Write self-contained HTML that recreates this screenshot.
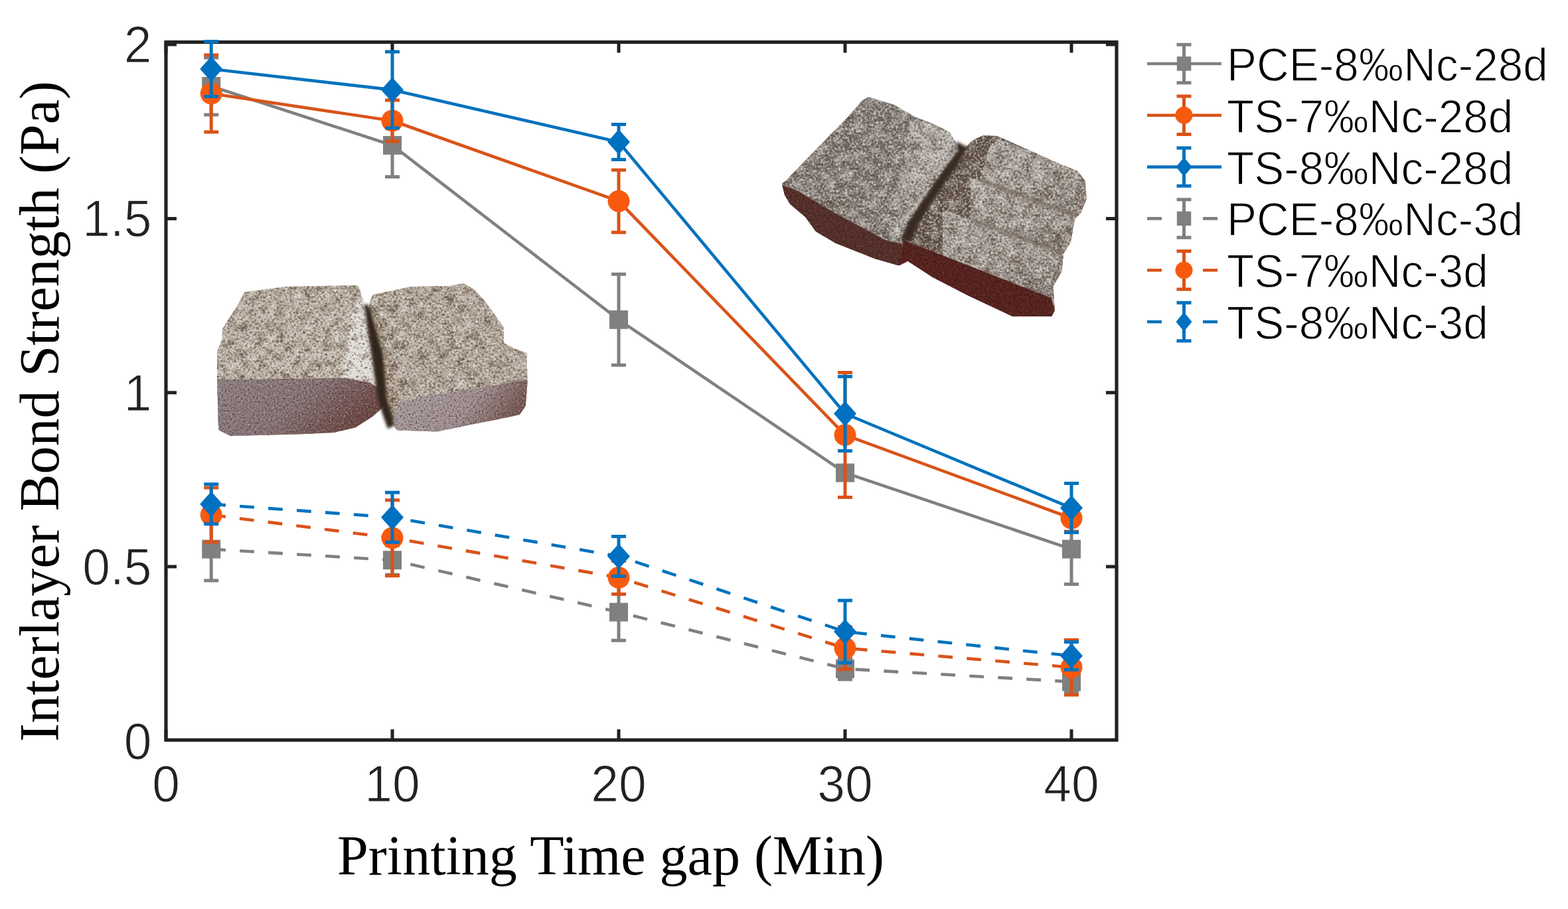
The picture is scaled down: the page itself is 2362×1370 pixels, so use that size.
<!DOCTYPE html>
<html><head><meta charset="utf-8"><title>Interlayer Bond Strength</title>
<style>
html,body{margin:0;padding:0;background:#fff;}
body{width:2362px;height:1370px;overflow:hidden;}
svg{display:block;}
.tk{font-family:"Liberation Sans",Arial,sans-serif;font-size:75px;fill:#222;stroke:#fff;stroke-width:1.1px;}
.leg{font-family:"Liberation Sans",Arial,sans-serif;font-size:67.5px;fill:#000;stroke:#fff;stroke-width:1.3px;}
.lab{font-family:"Liberation Serif","Times New Roman",serif;font-size:84px;fill:#000;}
</style></head>
<body>
<svg width="2362" height="1370" viewBox="0 0 2362 1370">
<rect width="2362" height="1370" fill="#fff"/>
<defs>
<filter id="grain" x="0" y="0" width="1" height="1" color-interpolation-filters="sRGB">
<feTurbulence type="fractalNoise" baseFrequency="0.3" numOctaves="2" seed="7" result="n"/>
<feTurbulence type="fractalNoise" baseFrequency="0.07" numOctaves="2" seed="11" result="m"/>
<feColorMatrix in="n" type="matrix" values="0 0 0 0 0.3  0 0 0 0 0.25  0 0 0 0 0.21  -2.8 0 0 0 1.27" result="dk"/>
<feColorMatrix in="n" type="matrix" values="0 0 0 0 0.93  0 0 0 0 0.91  0 0 0 0 0.88  2.4 0 0 0 -1.15" result="lt"/>
<feColorMatrix in="m" type="matrix" values="0 0 0 0 0.36  0 0 0 0 0.3  0 0 0 0 0.25  0 -2.4 0 0 1.08" result="mdk"/>
<feColorMatrix in="m" type="matrix" values="0 0 0 0 0.93  0 0 0 0 0.92  0 0 0 0 0.9  0 1.3 0 0 -0.62" result="mlt"/>
<feMerge result="ov"><feMergeNode in="mdk"/><feMergeNode in="mlt"/><feMergeNode in="dk"/><feMergeNode in="lt"/></feMerge>
<feComposite in="ov" in2="SourceGraphic" operator="in" result="ov2"/>
<feMerge><feMergeNode in="SourceGraphic"/><feMergeNode in="ov2"/></feMerge>
</filter>
<filter id="grain2" x="0" y="0" width="1" height="1" color-interpolation-filters="sRGB">
<feTurbulence type="fractalNoise" baseFrequency="0.3" numOctaves="2" seed="5" result="n"/>
<feColorMatrix in="n" type="matrix" values="0 0 0 0 0.1  0 0 0 0 0.05  0 0 0 0 0.04  -1.6 0 0 0 0.72" result="dk"/>
<feColorMatrix in="n" type="matrix" values="0 0 0 0 0.6  0 0 0 0 0.45  0 0 0 0 0.42  1.2 0 0 0 -0.7" result="lt"/>
<feMerge result="ov"><feMergeNode in="dk"/><feMergeNode in="lt"/></feMerge>
<feComposite in="ov" in2="SourceGraphic" operator="in" result="ov2"/>
<feMerge><feMergeNode in="SourceGraphic"/><feMergeNode in="ov2"/></feMerge>
</filter>
<filter id="grainS" x="0" y="0" width="1" height="1" color-interpolation-filters="sRGB">
<feTurbulence type="fractalNoise" baseFrequency="0.38" numOctaves="2" seed="9" result="n"/>
<feColorMatrix in="n" type="matrix" values="0 0 0 0 0.25  0 0 0 0 0.18  0 0 0 0 0.18  -3.0 0 0 0 1.35" result="dk"/>
<feColorMatrix in="n" type="matrix" values="0 0 0 0 0.85  0 0 0 0 0.82  0 0 0 0 0.82  2.2 0 0 0 -1.28" result="lt"/>
<feMerge result="ov"><feMergeNode in="dk"/><feMergeNode in="lt"/></feMerge>
<feComposite in="ov" in2="SourceGraphic" operator="in" result="ov2"/>
<feMerge><feMergeNode in="SourceGraphic"/><feMergeNode in="ov2"/></feMerge>
</filter>
<filter id="soft" x="-30%" y="-8%" width="160%" height="116%"><feGaussianBlur stdDeviation="2.2"/></filter>
<linearGradient id="gL" x1="0" y1="0" x2="0.25" y2="1">
<stop offset="0" stop-color="#a39b95"/><stop offset="0.7" stop-color="#968e87"/><stop offset="1" stop-color="#7e756e"/></linearGradient>
<linearGradient id="gB1l" x1="0" y1="0" x2="1" y2="0">
<stop offset="0" stop-color="#7b746e"/><stop offset="0.5" stop-color="#9f9994"/><stop offset="1" stop-color="#b0aba6"/></linearGradient>
<linearGradient id="gA1f" x1="0" y1="0" x2="1" y2="0.4">
<stop offset="0" stop-color="#8f8082"/><stop offset="0.55" stop-color="#867476"/><stop offset="1" stop-color="#6b4642"/></linearGradient>
<linearGradient id="gA2f" x1="0" y1="0" x2="1" y2="0.3">
<stop offset="0" stop-color="#ab9da0"/><stop offset="0.65" stop-color="#9f8f92"/><stop offset="1" stop-color="#785a53"/></linearGradient>
<linearGradient id="gA1t" x1="0" y1="0" x2="1" y2="1">
<stop offset="0" stop-color="#ab9f92"/><stop offset="1" stop-color="#bbb0a3"/></linearGradient>
</defs>
<g filter="url(#grain)">
<polygon points="369,440 430,432 539,430 543,438 548,467 550,471 563,530 575.5,584 577.3,602.5 575.5,615 561,628 535,644.5 502.5,652 448,654.5 347,657 329,648 327,566 327,530 334.6,511 334.6,497 340,487.5 356.5,462" fill="url(#gA1t)"/>
<polygon points="530,474 544,446 549,467 560,534 569,598 557,580 540,571 512,571 522,530" fill="#dedad6" filter="url(#soft)"/>
<polygon points="562,444 595,437 618.5,432 677,431 699,427 715,437 731.6,455 759,493.5 759,517 777,526 793.6,532 794.6,575.6 791.8,612 782.7,625 750,632 704,641 658.6,650.4 598.4,648.6 589.3,637.6 582,625 576.5,597.5 565.5,561 554.6,506 554.6,470 558.2,451.5" fill="#aa9d90"/>
<polygon points="556,460 568,460 585,534 599,598 606,606 600,640 589,640 582,601 576,534 557,467" fill="#9c8a74"/>
</g>
<g filter="url(#grainS)">
<polygon points="327,571.5 421,571 521,569.6 557,577 575.5,588 577.3,602.5 575.5,615 561,628 535,644.5 502.5,652 448,654.5 347,657 329,648" fill="url(#gA1f)"/>
<polygon points="600,606.6 649.5,595.7 722.5,584.7 793.6,572 794.6,575.6 791.8,612 782.7,625 750,632 704,641 658.6,650.4 598.4,648.6 591,640" fill="url(#gA2f)"/>
</g>
<polygon points="548,460 554,458 559,470 577,534 583,601 590,623.5 593,642 584,646 576,623.5 569,601 560,534 550,470" fill="#33271f" filter="url(#soft)"/>
<g filter="url(#grain)">
<polygon points="1308,146 1347,158 1377,175.5 1406.5,187 1430,199 1440,215 1442,229 1426,250 1406.5,278 1386.7,307.5 1367,337 1359,357 1363,396 1353,400 1318,390 1258.7,366.6 1229,349 1213,327 1190,307.5 1182,294 1178,276 1182,274 1209,246 1249,205 1278,175.5 1298,152" fill="#7b746e"/>
<polygon points="1372,182 1406.5,187 1430,199 1440,215 1442,229 1426,250 1406.5,278 1386.7,307.5 1367,337 1359,357 1322,352 1330,320 1348,282 1362,240" fill="url(#gB1l)"/>
<polygon points="1446,231.6 1464,212 1481,204 1503,205 1547,225 1591,244.7 1623.7,258 1634.6,273 1636.8,299.5 1628,321 1619,330 1612.8,365 1601.8,382.7 1599.6,409 1586.5,431 1588.7,468 1584.3,476.8 1525,476.8 1459.5,446 1404.7,417.7 1367.5,393.6 1354.4,400.2 1359,357 1367,337 1386.7,307.5 1406.5,278 1426,250 1442,229" fill="#5e4f45"/>
<polygon points="1492,218 1505,210 1547,225 1591,244.7 1623.7,258 1630,272 1628,300 1615.3,322 1476,271 1484,245" fill="url(#gL)"/>
<polygon points="1462,268 1476,271 1615.3,322 1612,352 1600.4,379.2 1462,331" fill="url(#gL)"/>
<polygon points="1420,316 1462,331 1600.4,379.2 1599.6,409 1586.5,431 1583.5,449 1420,385" fill="url(#gL)"/>
<polygon points="1623.7,258 1634.6,273 1636.8,299.5 1628,321 1619,330 1612.8,365 1601.8,382.7 1599.6,409 1586.5,431 1588.7,462 1580,458 1584,430 1592,405 1596,380 1606,350 1612,325 1624,298 1626,275" fill="#857870"/>
</g>
<polygon points="1440,213 1458,222 1441,250 1422,278 1402,307.5 1384,337 1372,364 1359,362 1359,357 1367,337 1386.7,307.5 1406.5,278 1426,250 1442,229" fill="#382b24" filter="url(#soft)"/>
<path d="M1476 271L1614 323M1462 331L1599 380" stroke="#6f635a" stroke-width="5" fill="none" filter="url(#soft)" opacity="0.8"/>
<g filter="url(#grain2)">
<polygon points="1178,278.6 1203,288.5 1246.6,314.7 1290.4,338.8 1334,362 1359,368 1363,396 1353,400 1318,390 1258.7,366.6 1229,349 1213,327 1190,307.5 1182,294" fill="#55302a"/>
<polygon points="1361,362 1583.5,449 1588.7,468 1584.3,476.8 1525,476.8 1459.5,446 1404.7,417.7 1367.5,393.6 1354.4,400.2 1358,380" fill="#56231f"/>
</g>
<rect x="250" y="63.5" width="1432" height="1051.8" fill="none" stroke="#222" stroke-width="5.2"/>
<path d="M250.0 1115.3V1099.3M250.0 63.5V79.5M591.0 1115.3V1099.3M591.0 63.5V79.5M932.0 1115.3V1099.3M932.0 63.5V79.5M1273.0 1115.3V1099.3M1273.0 63.5V79.5M1614.0 1115.3V1099.3M1614.0 63.5V79.5M250 854.1H266M1682 854.1H1666M250 591.8H266M1682 591.8H1666M250 329.4H266M1682 329.4H1666M250 67.1H266M1682 67.1H1666" stroke="#222" stroke-width="5"/>
<text transform="translate(250.0,1208) scale(1,1.045)" class="tk" text-anchor="middle">0</text>
<text transform="translate(591.0,1208) scale(1,1.045)" class="tk" text-anchor="middle">10</text>
<text transform="translate(932.0,1208) scale(1,1.045)" class="tk" text-anchor="middle">20</text>
<text transform="translate(1273.0,1208) scale(1,1.045)" class="tk" text-anchor="middle">30</text>
<text transform="translate(1614.0,1208) scale(1,1.045)" class="tk" text-anchor="middle">40</text>
<text transform="translate(228.5,1143.5) scale(1,1.045)" class="tk" text-anchor="end">0</text>
<text transform="translate(228.5,881.1) scale(1,1.045)" class="tk" text-anchor="end">0.5</text>
<text transform="translate(228.5,618.8) scale(1,1.045)" class="tk" text-anchor="end">1</text>
<text transform="translate(228.5,356.4) scale(1,1.045)" class="tk" text-anchor="end">1.5</text>
<text transform="translate(228.5,94.1) scale(1,1.045)" class="tk" text-anchor="end">2</text>
<text x="920" y="1318" class="lab" text-anchor="middle">Printing Time gap (Min)</text>
<text transform="translate(88,620) rotate(-90)" class="lab" text-anchor="middle">Interlayer Bond Strength (Pa)</text>
<polyline points="318.2,130.0 591.0,219.0 932.0,481.8 1273.0,712.6 1614.0,827.6" fill="none" stroke="#808080" stroke-width="4.6" stroke-linejoin="round"/>
<path d="M318.2 87.0V173.0M307.2 87.0H329.2M307.2 173.0H329.2" stroke="#808080" stroke-width="5.0" fill="none"/>
<path d="M591.0 171.6V266.4M580.0 171.6H602.0M580.0 266.4H602.0" stroke="#808080" stroke-width="5.0" fill="none"/>
<path d="M932.0 413.3V550.3M921.0 413.3H943.0M921.0 550.3H943.0" stroke="#808080" stroke-width="5.0" fill="none"/>
<path d="M1273.0 702.6V722.6M1262.0 702.6H1284.0M1262.0 722.6H1284.0" stroke="#808080" stroke-width="5.0" fill="none"/>
<path d="M1614.0 774.6V880.6M1603.0 774.6H1625.0M1603.0 880.6H1625.0" stroke="#808080" stroke-width="5.0" fill="none"/>
<rect x="304.2" y="116.0" width="28" height="28" fill="#808080"/>
<rect x="577.0" y="205.0" width="28" height="28" fill="#808080"/>
<rect x="918.0" y="467.8" width="28" height="28" fill="#808080"/>
<rect x="1259.0" y="698.6" width="28" height="28" fill="#808080"/>
<rect x="1600.0" y="813.6" width="28" height="28" fill="#808080"/>
<polyline points="318.2,141.0 591.0,182.0 932.0,303.2 1273.0,655.6 1614.0,781.0" fill="none" stroke="#D95319" stroke-width="4.6" stroke-linejoin="round"/>
<path d="M318.2 83.0V199.0M307.2 83.0H329.2M307.2 199.0H329.2" stroke="#D95319" stroke-width="5.0" fill="none"/>
<path d="M591.0 151.0V213.0M580.0 151.0H602.0M580.0 213.0H602.0" stroke="#D95319" stroke-width="5.0" fill="none"/>
<path d="M932.0 256.2V350.2M921.0 256.2H943.0M921.0 350.2H943.0" stroke="#D95319" stroke-width="5.0" fill="none"/>
<path d="M1273.0 561.6V749.6M1262.0 561.6H1284.0M1262.0 749.6H1284.0" stroke="#D95319" stroke-width="5.0" fill="none"/>
<path d="M1614.0 761.0V801.0M1603.0 761.0H1625.0M1603.0 801.0H1625.0" stroke="#D95319" stroke-width="5.0" fill="none"/>
<circle cx="318.2" cy="141.0" r="16.5" fill="#F75A0F"/>
<circle cx="591.0" cy="182.0" r="16.5" fill="#F75A0F"/>
<circle cx="932.0" cy="303.2" r="16.5" fill="#F75A0F"/>
<circle cx="1273.0" cy="655.6" r="16.5" fill="#F75A0F"/>
<circle cx="1614.0" cy="781.0" r="16.5" fill="#F75A0F"/>
<polyline points="318.2,104.0 591.0,135.4 932.0,214.0 1273.0,623.5 1614.0,765.6" fill="none" stroke="#0072BD" stroke-width="4.6" stroke-linejoin="round"/>
<path d="M318.2 62.5V145.5M307.2 62.5H329.2M307.2 145.5H329.2" stroke="#0072BD" stroke-width="5.0" fill="none"/>
<path d="M591.0 77.9V192.9M580.0 77.9H602.0M580.0 192.9H602.0" stroke="#0072BD" stroke-width="5.0" fill="none"/>
<path d="M932.0 187.5V240.5M921.0 187.5H943.0M921.0 240.5H943.0" stroke="#0072BD" stroke-width="5.0" fill="none"/>
<path d="M1273.0 567.5V679.5M1262.0 567.5H1284.0M1262.0 679.5H1284.0" stroke="#0072BD" stroke-width="5.0" fill="none"/>
<path d="M1614.0 728.6V802.6M1603.0 728.6H1625.0M1603.0 802.6H1625.0" stroke="#0072BD" stroke-width="5.0" fill="none"/>
<polygon points="318.2,85.0 335.2,104.0 318.2,123.0 301.2,104.0" fill="#0070C0"/>
<polygon points="591.0,116.4 608.0,135.4 591.0,154.4 574.0,135.4" fill="#0070C0"/>
<polygon points="932.0,195.0 949.0,214.0 932.0,233.0 915.0,214.0" fill="#0070C0"/>
<polygon points="1273.0,604.5 1290.0,623.5 1273.0,642.5 1256.0,623.5" fill="#0070C0"/>
<polygon points="1614.0,746.6 1631.0,765.6 1614.0,784.6 1597.0,765.6" fill="#0070C0"/>
<polyline points="318.2,827.6 591.0,844.2 932.0,922.6 1273.0,1008.0 1614.0,1027.5" fill="none" stroke="#808080" stroke-width="4.6" stroke-dasharray="21.8 21.25" stroke-linejoin="round"/>
<path d="M318.2 780.1V875.1M307.2 780.1H329.2M307.2 875.1H329.2" stroke="#808080" stroke-width="5.0" fill="none"/>
<path d="M591.0 822.2V866.2M580.0 822.2H602.0M580.0 866.2H602.0" stroke="#808080" stroke-width="5.0" fill="none"/>
<path d="M932.0 879.9V965.3M921.0 879.9H943.0M921.0 965.3H943.0" stroke="#808080" stroke-width="5.0" fill="none"/>
<path d="M1273.0 992.0V1024.0M1262.0 992.0H1284.0M1262.0 1024.0H1284.0" stroke="#808080" stroke-width="5.0" fill="none"/>
<path d="M1614.0 1012.5V1042.5M1603.0 1012.5H1625.0M1603.0 1042.5H1625.0" stroke="#808080" stroke-width="5.0" fill="none"/>
<rect x="304.2" y="813.6" width="28" height="28" fill="#808080"/>
<rect x="577.0" y="830.2" width="28" height="28" fill="#808080"/>
<rect x="918.0" y="908.6" width="28" height="28" fill="#808080"/>
<rect x="1259.0" y="994.0" width="28" height="28" fill="#808080"/>
<rect x="1600.0" y="1013.5" width="28" height="28" fill="#808080"/>
<polyline points="318.2,776.0 591.0,810.7 932.0,870.5 1273.0,976.8 1614.0,1005.8" fill="none" stroke="#D95319" stroke-width="4.6" stroke-dasharray="21.8 21.25" stroke-linejoin="round"/>
<path d="M318.2 735.0V817.0M307.2 735.0H329.2M307.2 817.0H329.2" stroke="#D95319" stroke-width="5.0" fill="none"/>
<path d="M591.0 753.7V867.7M580.0 753.7H602.0M580.0 867.7H602.0" stroke="#D95319" stroke-width="5.0" fill="none"/>
<path d="M932.0 845.5V895.5M921.0 845.5H943.0M921.0 895.5H943.0" stroke="#D95319" stroke-width="5.0" fill="none"/>
<path d="M1273.0 944.8V1008.8M1262.0 944.8H1284.0M1262.0 1008.8H1284.0" stroke="#D95319" stroke-width="5.0" fill="none"/>
<path d="M1614.0 964.4V1047.2M1603.0 964.4H1625.0M1603.0 1047.2H1625.0" stroke="#D95319" stroke-width="5.0" fill="none"/>
<circle cx="318.2" cy="776.0" r="16.5" fill="#F75A0F"/>
<circle cx="591.0" cy="810.7" r="16.5" fill="#F75A0F"/>
<circle cx="932.0" cy="870.5" r="16.5" fill="#F75A0F"/>
<circle cx="1273.0" cy="976.8" r="16.5" fill="#F75A0F"/>
<circle cx="1614.0" cy="1005.8" r="16.5" fill="#F75A0F"/>
<polyline points="318.2,759.8 591.0,779.8 932.0,838.4 1273.0,952.0 1614.0,988.5" fill="none" stroke="#0072BD" stroke-width="4.6" stroke-dasharray="21.8 21.25" stroke-linejoin="round"/>
<path d="M318.2 729.8V789.8M307.2 729.8H329.2M307.2 789.8H329.2" stroke="#0072BD" stroke-width="5.0" fill="none"/>
<path d="M591.0 742.3V817.3M580.0 742.3H602.0M580.0 817.3H602.0" stroke="#0072BD" stroke-width="5.0" fill="none"/>
<path d="M932.0 808.4V868.4M921.0 808.4H943.0M921.0 868.4H943.0" stroke="#0072BD" stroke-width="5.0" fill="none"/>
<path d="M1273.0 905.0V999.0M1262.0 905.0H1284.0M1262.0 999.0H1284.0" stroke="#0072BD" stroke-width="5.0" fill="none"/>
<path d="M1614.0 967.5V1009.5M1603.0 967.5H1625.0M1603.0 1009.5H1625.0" stroke="#0072BD" stroke-width="5.0" fill="none"/>
<polygon points="318.2,740.8 335.2,759.8 318.2,778.8 301.2,759.8" fill="#0070C0"/>
<polygon points="591.0,760.8 608.0,779.8 591.0,798.8 574.0,779.8" fill="#0070C0"/>
<polygon points="932.0,819.4 949.0,838.4 932.0,857.4 915.0,838.4" fill="#0070C0"/>
<polygon points="1273.0,933.0 1290.0,952.0 1273.0,971.0 1256.0,952.0" fill="#0070C0"/>
<polygon points="1614.0,969.5 1631.0,988.5 1614.0,1007.5 1597.0,988.5" fill="#0070C0"/>
<path d="M1728 96.0H1840" stroke="#808080" stroke-width="4.6"/>
<path d="M1783.5 67.3V124.7M1772.5 67.3H1794.5M1772.5 124.7H1794.5" stroke="#808080" stroke-width="5.0" fill="none"/>
<rect x="1772.8" y="85.2" width="21.5" height="21.5" fill="#808080"/>
<text transform="translate(1848,122.0) scale(1,1.045)" class="leg">PCE-8‰Nc-28d</text>
<path d="M1728 173.8H1840" stroke="#D95319" stroke-width="4.6"/>
<path d="M1783.5 145.1V202.5M1772.5 145.1H1794.5M1772.5 202.5H1794.5" stroke="#D95319" stroke-width="5.0" fill="none"/>
<circle cx="1783.5" cy="173.8" r="13" fill="#F75A0F"/>
<text transform="translate(1848,199.8) scale(1,1.045)" class="leg">TS-7‰Nc-28d</text>
<path d="M1728 251.6H1840" stroke="#0072BD" stroke-width="4.6"/>
<path d="M1783.5 222.9V280.3M1772.5 222.9H1794.5M1772.5 280.3H1794.5" stroke="#0072BD" stroke-width="5.0" fill="none"/>
<polygon points="1783.5,237.1 1795.5,251.6 1783.5,266.1 1771.5,251.6" fill="#0070C0"/>
<text transform="translate(1848,277.6) scale(1,1.045)" class="leg">TS-8‰Nc-28d</text>
<path d="M1728 329.4H1750M1812 329.4H1834" stroke="#808080" stroke-width="4.6"/>
<path d="M1783.5 300.7V358.1M1772.5 300.7H1794.5M1772.5 358.1H1794.5" stroke="#808080" stroke-width="5.0" fill="none"/>
<rect x="1772.8" y="318.6" width="21.5" height="21.5" fill="#808080"/>
<text transform="translate(1848,355.4) scale(1,1.045)" class="leg">PCE-8‰Nc-3d</text>
<path d="M1728 407.2H1750M1812 407.2H1834" stroke="#D95319" stroke-width="4.6"/>
<path d="M1783.5 378.5V435.9M1772.5 378.5H1794.5M1772.5 435.9H1794.5" stroke="#D95319" stroke-width="5.0" fill="none"/>
<circle cx="1783.5" cy="407.2" r="13" fill="#F75A0F"/>
<text transform="translate(1848,433.2) scale(1,1.045)" class="leg">TS-7‰Nc-3d</text>
<path d="M1728 485.0H1750M1812 485.0H1834" stroke="#0072BD" stroke-width="4.6"/>
<path d="M1783.5 456.3V513.7M1772.5 456.3H1794.5M1772.5 513.7H1794.5" stroke="#0072BD" stroke-width="5.0" fill="none"/>
<polygon points="1783.5,470.5 1795.5,485.0 1783.5,499.5 1771.5,485.0" fill="#0070C0"/>
<text transform="translate(1848,511.0) scale(1,1.045)" class="leg">TS-8‰Nc-3d</text>
</svg>
</body></html>
